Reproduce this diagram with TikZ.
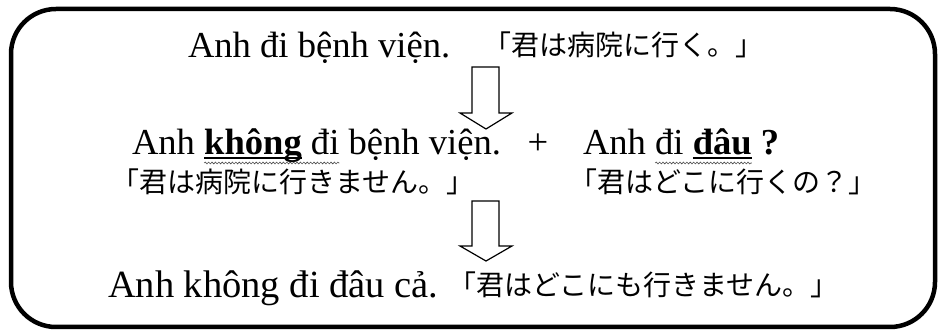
\documentclass[tikz,border=0pt]{standalone}
\usepackage{fontspec}
\setmainfont{Liberation Serif}
\newfontfamily\jpfont{Noto Sans CJK JP}
\usetikzlibrary{decorations.pathmorphing}
\begin{document}
\begin{tikzpicture}[x=1pt,y=-1pt,
  vt/.style={inner sep=0pt, outer sep=0pt, anchor=base west, font=\fontsize{36.6}{40}\selectfont},
  vtbig/.style={vt, font=\fontsize{38.5}{42}\selectfont},
  jps/.style={inner sep=0pt, outer sep=0pt, anchor=base west, font=\jpfont\fontsize{28}{30}\selectfont},
  frame/.style={line width=4.5pt, rounded corners=45pt},
  blockarrow/.style={draw, line width=1.2pt, line join=miter, fill=white},
  ulline/.style={line width=1.8pt},
  wavy/.style={draw=black!70, line width=0.6pt, decorate, decoration={snake, segment length=3.4pt, amplitude=0.9pt}}
]
\useasboundingbox (0,0) rectangle (938,331);
\draw[frame] (11,9) rectangle (935,327);

% line 1
\node[vt] (l1) at (188,58) {Anh đi bệnh viện.};
\node[jps] (j1) at (483,56) {「君は病院に行く。」};

% arrow 1
\draw[blockarrow] (472,67) -- (499,67) -- (499,113) -- (512,113) -- (486,129) -- (460,113) -- (472,113) -- cycle;

% line 2 left
\node[vt] (l2a) at (132,155) {Anh\ \null};
\node[vt] (l2b) at (l2a.base east) {\textbf{không}};
\node[vt] (l2s) at (l2b.base east) {\null\ \null};
\node[vt] (l2c) at (l2s.base east) {đi};
\node[vt] (l2d) at (l2c.base east) {\null\ bệnh viện.};
\draw[ulline] ([yshift=-3pt]l2b.base west) -- ([yshift=-3pt]l2b.base east);
\draw[wavy] ([yshift=-8pt]l2b.base west) -- ([yshift=-8pt]l2c.base east);

% plus
\node[vt, anchor=base] (plus) at (538,155) {+};

% line 2 right
\node[vt] (r2a) at (583,155) {Anh\ \null};
\node[vt] (r2b) at (r2a.base east) {đi};
\node[vt] (r2s) at (r2b.base east) {\null\ \null};
\node[vt] (r2c) at (r2s.base east) {\textbf{đâu}};
\node[vt] (r2d) at (r2c.base east) {\null\ \textbf{?}};
\draw[ulline] ([yshift=-3pt]r2c.base west) -- ([yshift=-3pt]r2c.base east);
\draw[wavy] ([yshift=-8pt]r2b.base west) -- ([yshift=-8pt]r2c.base east);

% line 2 Japanese
\node[jps] (j2l) at (111,193) {「君は病院に行きません。」};
\node[jps] (j2r) at (569,193) {「君はどこに行くの？」};

% arrow 2
\draw[blockarrow] (472,201) -- (499,201) -- (499,246) -- (512,246) -- (486,261) -- (460,246) -- (472,246) -- cycle;

% line 3
\node[vtbig] (l3) at (108,298) {Anh không đi đâu cả.};
\node[jps] (j3) at (448,296) {「君はどこにも行きません。」};
\end{tikzpicture}
\end{document}
